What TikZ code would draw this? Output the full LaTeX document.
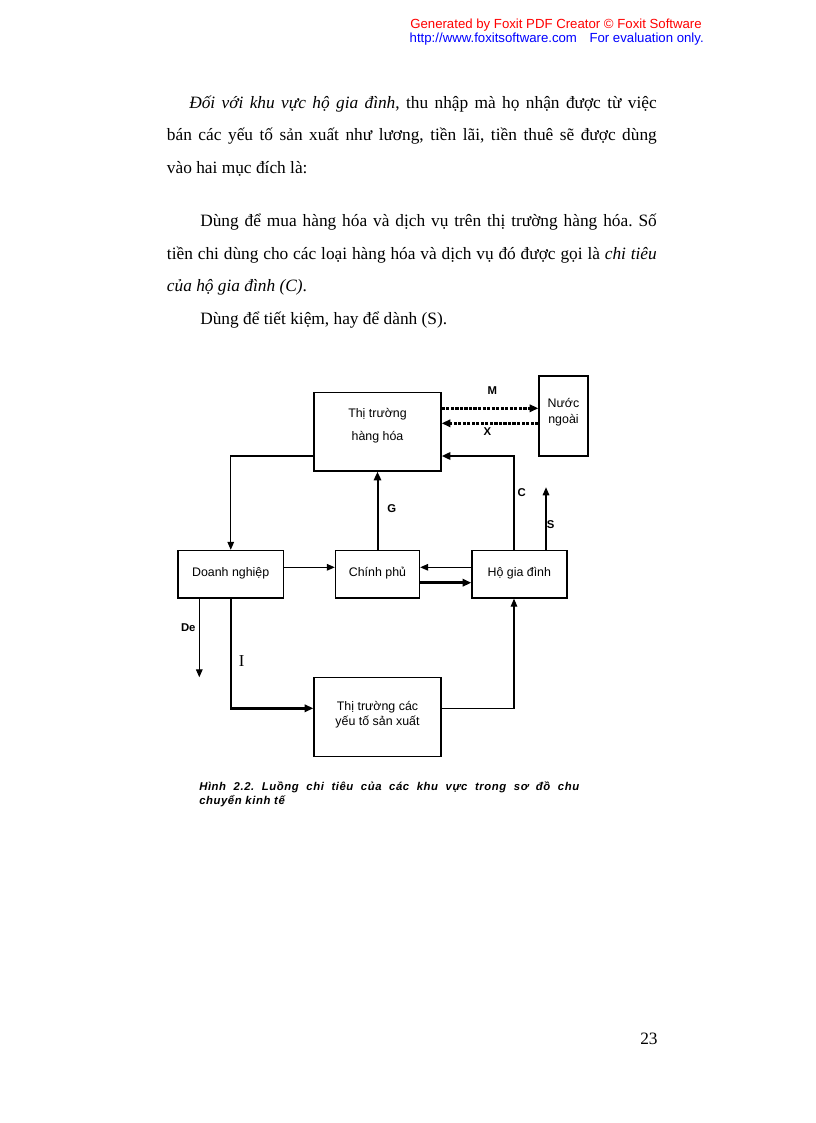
\documentclass[tikz,border=0pt]{standalone}
\usepackage{fontspec}
\setmainfont{Liberation Serif}
\setsansfont{Liberation Sans}
\newfontfamily\capfont{Liberation Sans}[LetterSpace=5]
\usetikzlibrary{arrows.meta}
\definecolor{hdrred}{RGB}{255,0,0}
\definecolor{hdrblue}{RGB}{0,0,255}
\frenchspacing
\begin{document}
\frenchspacing
\begin{tikzpicture}[x=0.75pt,y=-0.75pt,
  body/.style={anchor=base west, inner sep=0pt, font=\frenchspacing\fontsize{13}{15}\selectfont},
  hdr/.style={anchor=base east, inner sep=0pt, font=\sffamily\fontsize{9.9}{11}\selectfont},
  box/.style={draw, line width=1.05pt, inner sep=0pt, fill=white},
  btxt/.style={anchor=base, inner sep=0pt, font=\sffamily\fontsize{9.3}{11}\selectfont},
  lbl/.style={anchor=base, inner sep=0pt, font=\sffamily\bfseries\fontsize{8.5}{10}\selectfont},
  captxt/.style={anchor=base west, inner sep=0pt, font=\frenchspacing\capfont\bfseries\itshape\fontsize{8.5}{9}\selectfont},
  thinarr/.style={line width=0.8pt, -{Triangle[length=6pt,width=5pt]}},
  medarr/.style={line width=1.5pt, -{Triangle[length=6.5pt,width=5.5pt]}},
  thickarr/.style={line width=1.9pt, -{Triangle[length=6.5pt,width=5.5pt]}},
  dotarr/.style={line width=2.1pt, dash pattern=on 2.4pt off 1pt, -{Triangle[length=6.5pt,width=5.5pt]}}
]
\useasboundingbox (0,0) rectangle (816,1123);
\fill[white] (0,0) rectangle (816,1123);

% header
\node[hdr, text=hdrred] (h1) at (702,28.3) {Generated by Foxit PDF Creator © Foxit Software};
\node[hdr, text=hdrblue] (h2) at (704,42.7) {http://www.foxitsoftware.com\hspace{0.95em}For evaluation only.};

% body text
\node[body] (l1) at (189,108.3) {\makebox[350.6pt][s]{\textit{Đối với khu vực hộ gia đình}, thu nhập mà họ nhận được từ việc}};
\node[body] (l2) at (166.7,140.7) {\makebox[367.4pt][s]{bán các yếu tố sản xuất như lương, tiền lãi, tiền thuê sẽ được dùng}};
\node[body] (l3) at (166.7,173.3) {vào hai mục đích là:};
\node[body] (l4) at (200,226.7) {\makebox[342.4pt][s]{Dùng để mua hàng hóa và dịch vụ trên thị trường hàng hóa. Số}};
\node[body] (l5) at (166.7,259.3) {\makebox[367.4pt][s]{tiền chi dùng cho các loại hàng hóa và dịch vụ đó được gọi là \textit{chi tiêu}}};
\node[body] (l6) at (166.7,291.5) {\textit{của hộ gia đình (C)}.};
\node[body] (l7) at (200,324.5) {Dùng để tiết kiệm, hay để dành (S).};

% boxes
\node[box, minimum width=127*0.75pt, minimum height=78.5*0.75pt] (tt) at (377.5,431.75) {};
\node[box, minimum width=49*0.75pt, minimum height=80*0.75pt] (nn) at (563.5,416) {};
\node[box, minimum width=105.5*0.75pt, minimum height=47.5*0.75pt] (dn) at (230.75,574.25) {};
\node[box, minimum width=84*0.75pt, minimum height=47.5*0.75pt] (cp) at (377.5,574.25) {};
\node[box, minimum width=95*0.75pt, minimum height=47.5*0.75pt] (hgd) at (519.5,574.25) {};
\node[box, minimum width=127*0.75pt, minimum height=79*0.75pt] (yt) at (377.5,717) {};

% box texts
\node[btxt] (tt1) at (377.5,417.5) {Thị trường};
\node[btxt] (tt2) at (377.5,440.5) {hàng hóa};
\node[btxt] (nn1) at (563.5,407.7) {Nước};
\node[btxt] (nn2) at (563.5,423.3) {ngoài};
\node[btxt] (dnt) at (230.7,576) {Doanh nghiệp};
\node[btxt] (cpt) at (377.5,576) {Chính phủ};
\node[btxt] (hgdt) at (519.3,576) {Hộ gia đình};
\node[btxt] (yt1) at (377.5,710.7) {Thị trường các};
\node[btxt] (yt2) at (377.5,725) {yếu tố sản xuất};

% helper coordinates
\coordinate (y456) at (0,456);
\coordinate (y567) at (0,567.3);
\coordinate (y583) at (0,582.7);
\coordinate (y408) at (0,408.3);
\coordinate (y423) at (0,423.3);
\coordinate (y708) at (0,708.3);
\coordinate (x514) at (514,0);
\coordinate (x546) at (546,0);
\coordinate (x199) at (199.3,0);
\coordinate (x231) at (231,0);
\coordinate (sEnd) at (546,487.3);
\coordinate (deEnd) at (199.3,677.3);

% connectors
\draw[thinarr] (tt.west |- y456) -| (dn.north);
\draw[thinarr] (dn.east |- y567) -- (cp.west |- y567);
\draw[thinarr] (hgd.west |- y567) -- (cp.east |- y567);
\draw[thickarr] (cp.east |- y583) -- (hgd.west |- y583);
\draw[medarr] (cp.north) -- (tt.south);
\draw[thickarr] (x514 |- hgd.north) |- (tt.east |- y456);
\draw[thinarr] (x546 |- hgd.north) -- (sEnd);
\draw[thinarr] (x199 |- dn.south) -- (deEnd);
\draw[thickarr] (x231 |- dn.south) |- (yt.west |- y708);
\draw[thinarr] (yt.east |- y708) -| (x514 |- hgd.south);
\draw[dotarr] (tt.east |- y408) -- (nn.west |- y408);
\draw[dotarr] (nn.west |- y423) -- (tt.east |- y423);

% labels
\node[lbl] (lM) at (492.3,394) {M};
\node[lbl] (lX) at (487.3,435) {X};
\node[lbl] (lG) at (391.7,512) {G};
\node[lbl] (lC) at (521.7,496.5) {C};
\node[lbl] (lS) at (550.7,528) {S};
\node[lbl] (lDe) at (188.3,631) {De};
\node[anchor=base, inner sep=0pt, font=\fontsize{12.5}{14}\selectfont] (lI) at (241.7,666) {I};

% caption
\node[captxt] (c1) at (199,790) {\makebox[285pt][s]{Hình 2.2. Luồng chi tiêu của các khu vực trong sơ đồ chu}};
\node[captxt] (c2) at (199,804) {chuyển kinh tế};

% page number
\node[body] (pg) at (640,1044) {23};
\end{tikzpicture}
\end{document}
